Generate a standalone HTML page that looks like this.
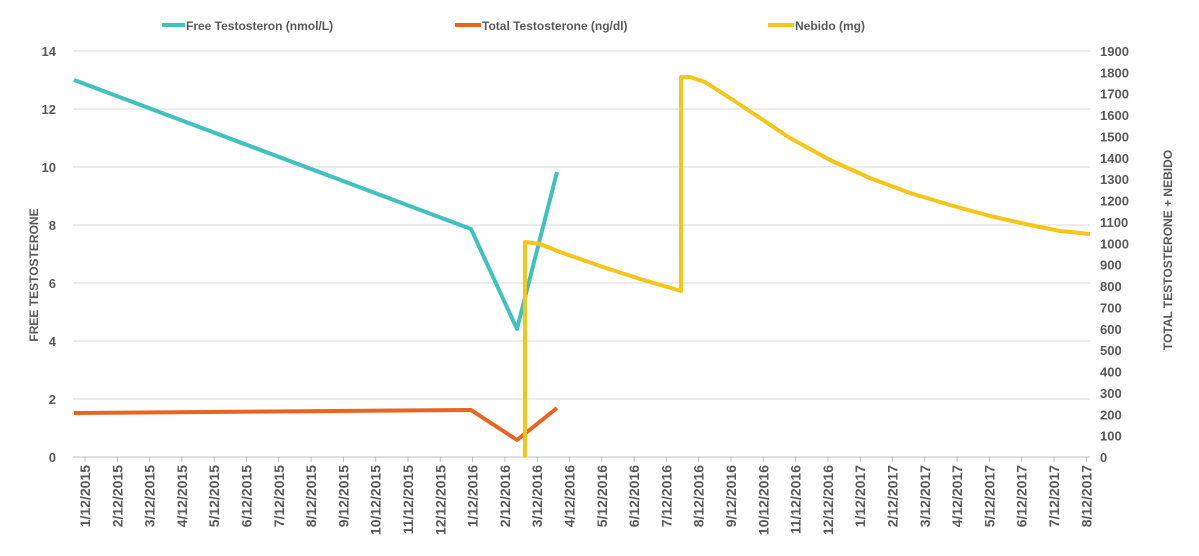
<!DOCTYPE html>
<html><head><meta charset="utf-8"><style>body{margin:0;background:#fff}</style></head><body>
<svg width="1199" height="551" xmlns="http://www.w3.org/2000/svg" font-family="Liberation Sans, sans-serif" font-weight="bold" fill="#595959">
<g stroke="#d9d9d9" stroke-width="1">
<line x1="73" x2="1090" y1="399" y2="399"/><line x1="73" x2="1090" y1="341" y2="341"/><line x1="73" x2="1090" y1="283" y2="283"/><line x1="73" x2="1090" y1="225" y2="225"/><line x1="73" x2="1090" y1="167" y2="167"/><line x1="73" x2="1090" y1="109" y2="109"/><line x1="73" x2="1090" y1="51" y2="51"/>
<line x1="73" x2="1090" y1="457" y2="457" stroke="#bfbfbf"/>
</g>
<g font-size="13" text-anchor="end">
<text x="56" y="462">0</text><text x="56" y="404">2</text><text x="56" y="346">4</text><text x="56" y="288">6</text><text x="56" y="230">8</text><text x="56" y="172">10</text><text x="56" y="114">12</text><text x="56" y="56">14</text>
</g>
<g font-size="13">
<text x="1100" y="462">0</text><text x="1100" y="440.6">100</text><text x="1100" y="419.3">200</text><text x="1100" y="397.9">300</text><text x="1100" y="376.5">400</text><text x="1100" y="355.2">500</text><text x="1100" y="333.8">600</text><text x="1100" y="312.4">700</text><text x="1100" y="291">800</text><text x="1100" y="269.7">900</text><text x="1100" y="248.3">1000</text><text x="1100" y="226.9">1100</text><text x="1100" y="205.6">1200</text><text x="1100" y="184.2">1300</text><text x="1100" y="162.8">1400</text><text x="1100" y="141.5">1500</text><text x="1100" y="120.1">1600</text><text x="1100" y="98.7">1700</text><text x="1100" y="77.3">1800</text><text x="1100" y="56">1900</text>
</g>
<text transform="translate(38,275) rotate(-90)" font-size="12" text-anchor="middle">FREE TESTOSTERONE</text>
<text transform="translate(1172,250) rotate(-90)" font-size="12" text-anchor="middle">TOTAL TESTOSTERONE + NEBIDO</text>
<g font-size="12">
<line x1="162" x2="185" y1="25" y2="25" stroke="#3fc1c0" stroke-width="4"/><text x="186" y="30">Free Testosteron (nmol/L)</text>
<line x1="455" x2="481" y1="25" y2="25" stroke="#e9651f" stroke-width="4"/><text x="482" y="30">Total Testosterone (ng/dl)</text>
<line x1="768" x2="794" y1="25" y2="25" stroke="#f5c518" stroke-width="4"/><text x="795" y="30">Nebido (mg)</text>
</g>
<g fill="none" stroke-width="4" stroke-linejoin="round">
<polyline stroke="#3fc1c0" points="74,80 471,229 517,329 557,172"/>
<polyline stroke="#e9651f" points="74,413 471,410 517,440 557,408"/>
<polyline stroke="#f5c518" points="525,457 525,242 540,244 560,252 600,266 640,279 681,291 681,77 690,77 705,82 730,98 760,118 790,138 830,160 870,178 910,193 950,205 990,216 1030,225 1060,231 1090,234"/>
</g>
<g stroke="#bfbfbf">
<line x1="85" x2="85" y1="457" y2="462"/><line x1="117.3" x2="117.3" y1="457" y2="462"/><line x1="149.6" x2="149.6" y1="457" y2="462"/><line x1="181.9" x2="181.9" y1="457" y2="462"/><line x1="214.2" x2="214.2" y1="457" y2="462"/><line x1="246.5" x2="246.5" y1="457" y2="462"/><line x1="278.8" x2="278.8" y1="457" y2="462"/><line x1="311.1" x2="311.1" y1="457" y2="462"/><line x1="343.4" x2="343.4" y1="457" y2="462"/><line x1="375.7" x2="375.7" y1="457" y2="462"/><line x1="408" x2="408" y1="457" y2="462"/><line x1="440.3" x2="440.3" y1="457" y2="462"/><line x1="472.6" x2="472.6" y1="457" y2="462"/><line x1="504.9" x2="504.9" y1="457" y2="462"/><line x1="537.2" x2="537.2" y1="457" y2="462"/><line x1="569.5" x2="569.5" y1="457" y2="462"/><line x1="601.8" x2="601.8" y1="457" y2="462"/><line x1="634.1" x2="634.1" y1="457" y2="462"/><line x1="666.4" x2="666.4" y1="457" y2="462"/><line x1="698.7" x2="698.7" y1="457" y2="462"/><line x1="731" x2="731" y1="457" y2="462"/><line x1="763.3" x2="763.3" y1="457" y2="462"/><line x1="795.6" x2="795.6" y1="457" y2="462"/><line x1="827.9" x2="827.9" y1="457" y2="462"/><line x1="860.2" x2="860.2" y1="457" y2="462"/><line x1="892.5" x2="892.5" y1="457" y2="462"/><line x1="924.8" x2="924.8" y1="457" y2="462"/><line x1="957.1" x2="957.1" y1="457" y2="462"/><line x1="989.4" x2="989.4" y1="457" y2="462"/><line x1="1021.7" x2="1021.7" y1="457" y2="462"/><line x1="1054" x2="1054" y1="457" y2="462"/><line x1="1086.3" x2="1086.3" y1="457" y2="462"/>
</g>
<g font-size="14" text-anchor="end">
<text transform="translate(90,465) rotate(-90)">1/12/2015</text>
<text transform="translate(122.3,465) rotate(-90)">2/12/2015</text>
<text transform="translate(154.6,465) rotate(-90)">3/12/2015</text>
<text transform="translate(186.9,465) rotate(-90)">4/12/2015</text>
<text transform="translate(219.2,465) rotate(-90)">5/12/2015</text>
<text transform="translate(251.5,465) rotate(-90)">6/12/2015</text>
<text transform="translate(283.8,465) rotate(-90)">7/12/2015</text>
<text transform="translate(316.1,465) rotate(-90)">8/12/2015</text>
<text transform="translate(348.4,465) rotate(-90)">9/12/2015</text>
<text transform="translate(380.7,465) rotate(-90)">10/12/2015</text>
<text transform="translate(413,465) rotate(-90)">11/12/2015</text>
<text transform="translate(445.3,465) rotate(-90)">12/12/2015</text>
<text transform="translate(477.6,465) rotate(-90)">1/12/2016</text>
<text transform="translate(509.9,465) rotate(-90)">2/12/2016</text>
<text transform="translate(542.2,465) rotate(-90)">3/12/2016</text>
<text transform="translate(574.5,465) rotate(-90)">4/12/2016</text>
<text transform="translate(606.8,465) rotate(-90)">5/12/2016</text>
<text transform="translate(639.1,465) rotate(-90)">6/12/2016</text>
<text transform="translate(671.4,465) rotate(-90)">7/12/2016</text>
<text transform="translate(703.7,465) rotate(-90)">8/12/2016</text>
<text transform="translate(736,465) rotate(-90)">9/12/2016</text>
<text transform="translate(768.3,465) rotate(-90)">10/12/2016</text>
<text transform="translate(800.6,465) rotate(-90)">11/12/2016</text>
<text transform="translate(832.9,465) rotate(-90)">12/12/2016</text>
<text transform="translate(865.2,465) rotate(-90)">1/12/2017</text>
<text transform="translate(897.5,465) rotate(-90)">2/12/2017</text>
<text transform="translate(929.8,465) rotate(-90)">3/12/2017</text>
<text transform="translate(962.1,465) rotate(-90)">4/12/2017</text>
<text transform="translate(994.4,465) rotate(-90)">5/12/2017</text>
<text transform="translate(1026.7,465) rotate(-90)">6/12/2017</text>
<text transform="translate(1059,465) rotate(-90)">7/12/2017</text>
<text transform="translate(1091.3,465) rotate(-90)">8/12/2017</text>
</g>
</svg>
</body></html>
